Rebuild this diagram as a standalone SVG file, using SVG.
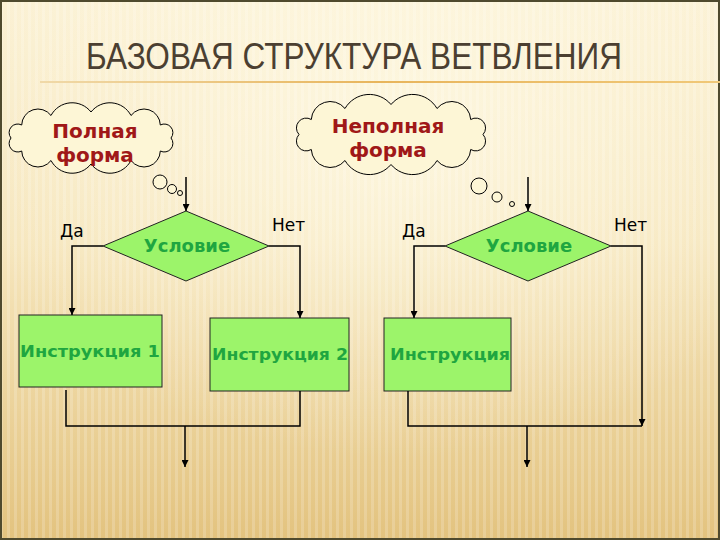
<svg xmlns="http://www.w3.org/2000/svg" width="720" height="540" viewBox="0 0 720 540">
<defs>
<linearGradient id="bg" x1="0" y1="0" x2="0" y2="1">
<stop offset="0" stop-color="#fbf1d4"/>
<stop offset="0.45" stop-color="#f6e6bd"/>
<stop offset="1" stop-color="#e3c37f"/>
</linearGradient>
<radialGradient id="glow" cx="0.55" cy="0.25" r="0.6">
<stop offset="0" stop-color="#fffbe8" stop-opacity="0.7"/>
<stop offset="1" stop-color="#fffbe8" stop-opacity="0"/>
</radialGradient>
<pattern id="stripes" width="7" height="540" patternUnits="userSpaceOnUse">
<rect x="0" y="0" width="3" height="540" fill="#ffffff" opacity="0.18"/>
</pattern>
<linearGradient id="rule" x1="0" y1="0" x2="1" y2="0">
<stop offset="0" stop-color="#f0d9a8"/>
<stop offset="0.5" stop-color="#e8b55c"/>
<stop offset="1" stop-color="#f0c878"/>
</linearGradient>
<marker id="arr" viewBox="0 0 10 10" refX="10" refY="5" markerWidth="7" markerHeight="7" markerUnits="userSpaceOnUse" orient="auto">
<path d="M0,0 L10,5 L0,10 Z" fill="#000"/>
</marker>
</defs>
<style>
.cloud{fill:#fdf6d6;stroke:#000;stroke-width:1}
.cloudtxt{font-family:"DejaVu Sans",Verdana,sans-serif;font-weight:bold;font-size:20px;fill:#a01818;text-anchor:middle}
.shape{fill:#9cf46a;stroke:#222;stroke-width:1}
.gtxt{font-family:"DejaVu Sans",Verdana,sans-serif;font-weight:bold;font-size:16px;fill:#1fa640;text-anchor:middle}
.cond{font-size:18px}
.lbl{font-family:"DejaVu Sans",Verdana,sans-serif;font-size:17px;fill:#000}
.conn{fill:none;stroke:#000;stroke-width:1.5}
</style>
<rect x="0" y="0" width="720" height="540" fill="url(#bg)"/>
<rect x="0" y="0" width="720" height="540" fill="url(#glow)"/>
<rect x="0" y="0" width="720" height="540" fill="url(#stripes)"/>
<rect x="1" y="1" width="718" height="538" fill="none" stroke="#4f4a2e" stroke-width="2"/>
<g id="title">
<text x="86" y="69" font-family="'Liberation Sans Narrow','Liberation Sans',Arial,sans-serif" font-size="36" fill="#4b3f31" textLength="536" lengthAdjust="spacingAndGlyphs">БАЗОВАЯ СТРУКТУРА ВЕТВЛЕНИЯ</text>
<rect x="40" y="81" width="680" height="2" fill="url(#rule)"/>
</g>
<g id="cloud-full">
<path class="cloud" d="M171,138 A8.6,8.6 0 0 1 160.3,151 A16.3,16.3 0 0 1 131,160.5 A23.9,23.9 0 0 1 91,164 A23.9,23.9 0 0 1 51,160.5 A16.3,16.3 0 0 1 21.7,151 A8.6,8.6 0 0 1 11,138 A8.6,8.6 0 0 1 21.7,125 A16.3,16.3 0 0 1 51,115.5 A23.9,23.9 0 0 1 91,112 A23.9,23.9 0 0 1 131,115.5 A16.3,16.3 0 0 1 160.3,125 A8.6,8.6 0 0 1 171,138 Z"/>
<circle class="cloud" cx="160" cy="182" r="7"/>
<circle class="cloud" cx="172" cy="189" r="4.5"/>
<circle class="cloud" cx="180" cy="193" r="2.5"/>
<text class="cloudtxt" x="95" y="138">Полная</text>
<text class="cloudtxt" x="95" y="162">форма</text>
</g>
<g id="cloud-partial">
<path class="cloud" d="M483,134.5 A9.8,9.8 0 0 1 470.7,149.5 A19,19 0 0 1 437,160.5 A28.2,28.2 0 0 1 391,164.5 A28.2,28.2 0 0 1 345,160.5 A19,19 0 0 1 311.3,149.5 A9.8,9.8 0 0 1 299,134.5 A9.8,9.8 0 0 1 311.3,119.5 A19,19 0 0 1 345,108.5 A28.2,28.2 0 0 1 391,104.5 A28.2,28.2 0 0 1 437,108.5 A19,19 0 0 1 470.7,119.5 A9.8,9.8 0 0 1 483,134.5 Z"/>
<circle class="cloud" cx="479" cy="186" r="8"/>
<circle class="cloud" cx="497" cy="197" r="5"/>
<circle class="cloud" cx="512" cy="204" r="2.5"/>
<text class="cloudtxt" x="388" y="133">Неполная</text>
<text class="cloudtxt" x="388" y="157">форма</text>
</g>
<g id="cond1">
<polygon class="shape" points="186,211 269,246 186,281 103,246"/>
<text class="gtxt cond" x="187" y="252">Условие</text>
</g>
<g id="instr1">
<rect class="shape" x="19" y="315" width="143" height="72"/>
<text class="gtxt" x="90" y="357" textLength="140" lengthAdjust="spacingAndGlyphs">Инструкция 1</text>
</g>
<g id="instr2">
<rect class="shape" x="210" y="318" width="139" height="73"/>
<text class="gtxt" x="280" y="360" textLength="136" lengthAdjust="spacingAndGlyphs">Инструкция 2</text>
</g>
<g id="cond2">
<polygon class="shape" points="528,211 611,246 528,281 445,246"/>
<text class="gtxt cond" x="529" y="252">Условие</text>
</g>
<g id="instr3">
<rect class="shape" x="384" y="318" width="127" height="73"/>
<text class="gtxt" x="450" y="360" textLength="120" lengthAdjust="spacingAndGlyphs">Инструкция</text>
</g>
<g id="labels">
<text class="lbl" x="60" y="237">Да</text>
<text class="lbl" x="272" y="231">Нет</text>
<text class="lbl" x="402" y="237">Да</text>
<text class="lbl" x="614" y="231">Нет</text>
</g>
<g id="connectors">
<path class="conn" d="M186,177 L186,211" marker-end="url(#arr)"/>
<path class="conn" d="M103,246 L72,246 L72,315" marker-end="url(#arr)"/>
<path class="conn" d="M269,246 L300,246 L300,318" marker-end="url(#arr)"/>
<path class="conn" d="M66,390 L66,426 L300,426 L300,391"/>
<path class="conn" d="M185,426 L185,467" marker-end="url(#arr)"/>
<path class="conn" d="M528,177 L528,211" marker-end="url(#arr)"/>
<path class="conn" d="M445,246 L414,246 L414,318" marker-end="url(#arr)"/>
<path class="conn" d="M611,246 L642,246 L642,426" marker-end="url(#arr)"/>
<path class="conn" d="M408,391 L408,426 L642,426"/>
<path class="conn" d="M527,426 L527,467" marker-end="url(#arr)"/>
</g>
</svg>
